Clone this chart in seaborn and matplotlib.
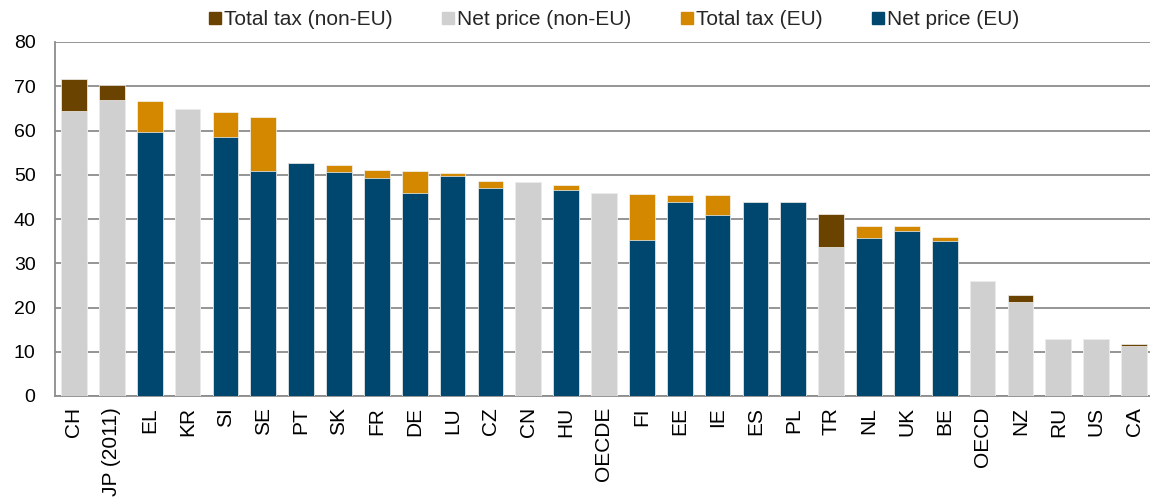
import pandas as pd
import seaborn as sns
import matplotlib
matplotlib.use('Agg')
import matplotlib.pyplot as plt
from matplotlib.patches import Patch

# values
countries = ['CH', 'JP (2011)', 'EL', 'KR', 'SI', 'SE', 'PT', 'SK', 'FR', 'DE',
             'LU', 'CZ', 'CN', 'HU', 'OECDE', 'FI', 'EE', 'IE', 'ES', 'PL',
             'TR', 'NL', 'UK', 'BE', 'OECD', 'NZ', 'RU', 'US', 'CA']
net_price = [64.3, 66.9, 59.7, 64.8, 58.5, 50.8, 52.6, 50.7, 49.2, 45.8,
             49.7, 47.1, 48.4, 46.5, 45.9, 35.3, 43.9, 41.0, 43.8, 43.9,
             33.6, 35.8, 37.3, 35.1, 25.9, 21.3, 12.9, 12.9, 11.2]
total_tax = [7.3, 3.4, 6.9, 0.0, 5.7, 12.3, 0.0, 1.6, 1.9, 5.1,
             0.7, 1.6, 0.0, 1.2, 0.0, 10.3, 1.6, 4.5, 0.0, 0.0,
             7.5, 2.7, 1.1, 0.8, 0.0, 1.5, 0.0, 0.0, 0.6]
group = ['non-EU', 'non-EU', 'EU', 'non-EU', 'EU', 'EU', 'EU', 'EU', 'EU', 'EU',
         'EU', 'EU', 'non-EU', 'EU', 'non-EU', 'EU', 'EU', 'EU', 'EU', 'EU',
         'non-EU', 'EU', 'EU', 'EU', 'non-EU', 'non-EU', 'non-EU', 'non-EU', 'non-EU']

df = pd.DataFrame({'country': countries, 'net': net_price, 'tax': total_tax, 'group': group})
df['total'] = df['net'] + df['tax']

tax_colors = {'non-EU': '#6b4300', 'EU': '#d48800'}
net_colors = {'non-EU': '#d0d0d0', 'EU': '#00476f'}

sns.set_style('white')
plt.rcParams['font.family'] = ['Liberation Sans', 'DejaVu Sans']

fig = plt.figure(figsize=(11.5, 4.97), dpi=100)
ax = fig.add_axes([55/1150, 1 - 396/497, 1098/1150, (396 - 42)/497])

# total bar first (shows the tax part), then net price on top
sns.barplot(data=df, x='country', y='total', hue='group', palette=tax_colors,
            dodge=False, width=0.68, saturation=1, edgecolor='#f4f4f4', linewidth=0.5,
            legend=False, ax=ax, zorder=3)
sns.barplot(data=df, x='country', y='net', hue='group', palette=net_colors,
            dodge=False, width=0.68, saturation=1, edgecolor='#f4f4f4', linewidth=0.5,
            legend=False, ax=ax, zorder=3)

ax.set_ylim(0, 80)
ax.set_yticks(range(0, 81, 10))
ax.set_xlim(-0.5, len(countries) - 0.5)
ax.yaxis.grid(True, color='#8c8c8c', linewidth=1.3, zorder=0)
ax.set_axisbelow(True)
ax.set_xlabel('')
ax.set_ylabel('')

for s in ['top', 'right']:
    ax.spines[s].set_visible(False)
for s in ['left', 'bottom']:
    ax.spines[s].set_color('#8c8c8c')
    ax.spines[s].set_linewidth(1.3)

ax.tick_params(axis='y', length=0, pad=14, labelsize=14, colors='black')
ax.tick_params(axis='x', length=0, pad=8, labelsize=15, colors='black')
ax.set_xticks(range(len(countries)))
ax.set_xticklabels(countries, rotation=90, va='top')

handles = [Patch(color=tax_colors['non-EU'], label='Total tax (non-EU)'),
           Patch(color=net_colors['non-EU'], label='Net price (non-EU)'),
           Patch(color=tax_colors['EU'], label='Total tax (EU)'),
           Patch(color=net_colors['EU'], label='Net price (EU)')]
fig.legend(handles=handles, loc='center', bbox_to_anchor=(0.534, 0.96), ncol=4,
           frameon=False, fontsize=15, handlelength=0.55, handleheight=0.55,
           handletextpad=0.15, columnspacing=2.4)

fig.savefig('out.png', dpi=100)
